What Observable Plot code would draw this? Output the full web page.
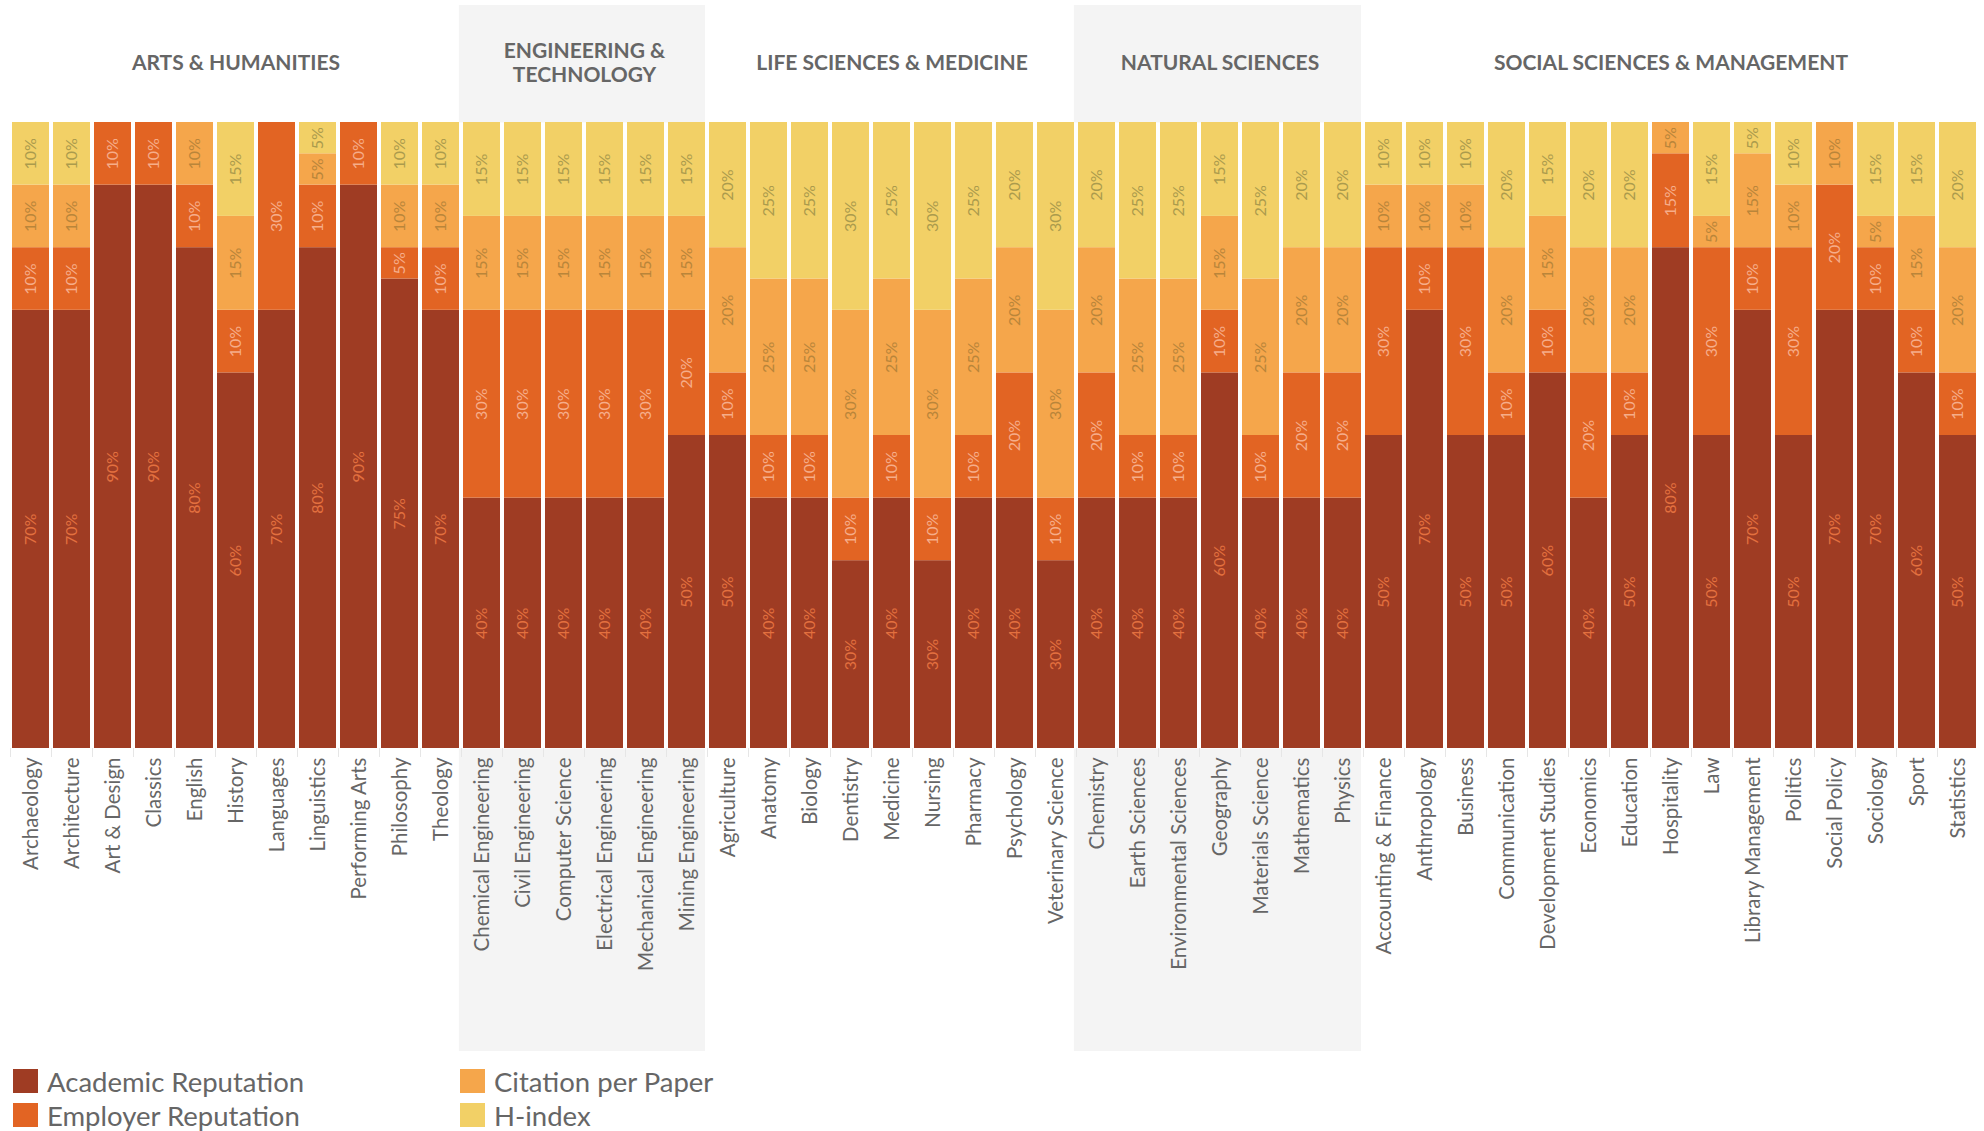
<!DOCTYPE html>
<html><head><meta charset="utf-8">
<script src="https://cdn.jsdelivr.net/npm/d3@7"></script>
<script src="https://cdn.jsdelivr.net/npm/@observablehq/plot@0.6"></script>
<style>
body{margin:0;background:#fff;font-family:Lato, sans-serif;}
#legend{display:grid;grid-template-columns:447px 420px;grid-template-rows:34px 34px;grid-auto-flow:column;padding-left:13px;margin-top:4px;}
.item{display:flex;align-items:center;height:34px;font-size:27.5px;color:#666;white-space:nowrap;}
.sw{width:25px;height:24px;margin-right:9px;flex:none;}
</style></head><body>
<div id="chart"></div><div id="legend"></div>
<script>
const groupNames = ["ARTS & HUMANITIES", "ENGINEERING &\nTECHNOLOGY", "LIFE SCIENCES & MEDICINE", "NATURAL SCIENCES", "SOCIAL SCIENCES & MANAGEMENT"];
const artsSubjects = ["Archaeology","Architecture","Art & Design","Classics","English","History","Languages","Linguistics","Performing Arts","Philosophy","Theology"];
const engSubjects = ["Chemical Engineering","Civil Engineering","Computer Science","Electrical Engineering","Mechanical Engineering","Mining Engineering"];
const lifeSubjects = ["Agriculture","Anatomy","Biology","Dentistry","Medicine","Nursing","Pharmacy","Psychology","Veterinary Science"];
const naturalSubjects = ["Chemistry","Earth Sciences","Environmental Sciences","Geography","Materials Science","Mathematics","Physics"];
const socialSubjects = ["Accounting & Finance","Anthropology","Business","Communication","Development Studies","Economics","Education","Hospitality","Law","Library Management","Politics","Social Policy","Sociology","Sport","Statistics"];
const shadedGroups = [false, true, false, true, false];

// values in %, same order as subjects (arts, eng, life, natural, social)
const academic = [70,70,90,90,80,60,70,80,90,75,70, 40,40,40,40,40,50, 50,40,40,30,40,30,40,40,30, 40,40,40,60,40,40,40, 50,70,50,50,60,40,50,80,50,70,50,70,70,60,50];
const employer = [10,10,10,10,10,10,30,10,10,5,10, 30,30,30,30,30,20, 10,10,10,10,10,10,10,20,10, 20,10,10,10,10,20,20, 30,10,30,10,10,20,10,15,30,10,30,20,10,10,10];
const citation = [10,10,0,0,10,15,0,5,0,10,10, 15,15,15,15,15,15, 20,25,25,30,25,30,25,20,30, 20,25,25,15,25,20,20, 10,10,10,20,15,20,20,5,5,15,10,10,5,15,20];
const hIndex   = [10,10,0,0,0,15,0,5,0,10,10, 15,15,15,15,15,15, 20,25,25,30,25,30,25,20,30, 20,25,25,15,25,20,20, 10,10,10,20,15,20,20,0,15,5,10,0,15,15,20];

const metrics = ["Academic Reputation","Employer Reputation","Citation per Paper","H-index"];
const metricColors = ["#9f3c23","#e26423","#f5a64b","#f2d066"];
const labelColors = ["#e3703f","#f6ad8a","#b9853a","#ab9b4d"];

const groupSubjects = [artsSubjects, engSubjects, lifeSubjects, naturalSubjects, socialSubjects];
const subjects = groupSubjects.flat();
const series = [academic, employer, citation, hIndex];
const rows = [];
subjects.forEach((s, i) => metrics.forEach((m, k) => rows.push({subject: s, metric: m, value: series[k][i]})));
const shadedSubjects = groupSubjects.filter((g, i) => shadedGroups[i]).flat();

const W = 1984, H = 1060, ML = 8, MR = 5, MT = 122, MB = 312;
const padIn = 0.1, padOut = 0.05;
const step = (W - ML - MR) / (subjects.length - padIn + 2 * padOut);
const gap = step * padIn;

const stackOpts = {x: "subject", y: "value", z: "metric", order: metrics};
const marks = [
  Plot.barY(shadedSubjects, {x: d => d, y1: 0, y2: 100, fill: "#f4f4f4", insetTop: -(MT - 5), insetBottom: -303, insetLeft: -gap, insetRight: 0}),
  Plot.frame({fill: "white", stroke: "none"}),
  Plot.axisX({tickSize: 9, tickFormat: () => "", stroke: "#e6e6e6", dx: -step / 2, label: null}),
  Plot.axisX({tickSize: 0, tickPadding: 9, tickRotate: -90, fontSize: 20.5, fill: "#666", label: null}),
  Plot.barY(rows, Plot.stackY({...stackOpts, fill: d => metricColors[metrics.indexOf(d.metric)]})),
  ...metrics.map((m, k) => Plot.text(rows, Plot.stackY({...stackOpts,
    text: d => (d.metric === m && d.value > 0) ? d.value + "%" : null,
    rotate: -90, fontSize: 16, fill: labelColors[k]}))),
  ...groupNames.map((name, g) => {
    const list = groupSubjects[g];
    const even = list.length % 2 === 0;
    const mid = list[Math.floor(list.length / 2)];
    return Plot.text([name], {x: () => mid, dx: even ? -step / 2 : 0, text: d => d,
      frameAnchor: "top", dy: -60, lineAnchor: "middle", lineHeight: 1.15,
      fontSize: 21, fontWeight: 700, fill: "#666"});
  })
];

const chart = Plot.plot({
  width: W, height: H,
  marginLeft: ML, marginRight: MR, marginTop: MT, marginBottom: MB,
  style: {fontFamily: "Lato, sans-serif", background: "white"},
  x: {domain: subjects, paddingInner: padIn, paddingOuter: padOut, label: null},
  y: {domain: [0, 100], axis: null},
  color: {type: "identity"},
  marks
});
document.getElementById("chart").appendChild(chart);

const legend = document.getElementById("legend");
metrics.forEach((m, k) => {
  const it = document.createElement("div");
  it.className = "item";
  it.innerHTML = `<span class="sw" style="background:${metricColors[k]}"></span><span>${m}</span>`;
  legend.appendChild(it);
});
</script>
</body></html>
